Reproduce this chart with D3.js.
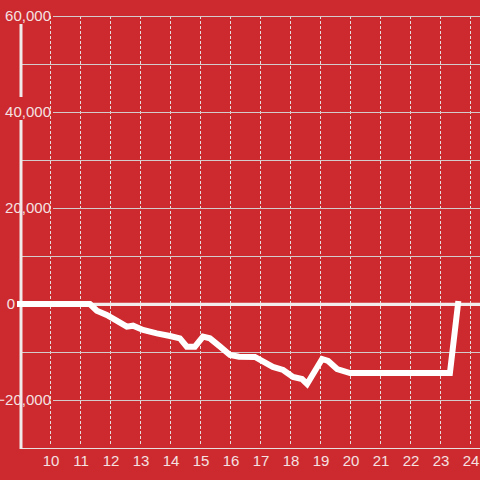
<!DOCTYPE html>
<html>
<head>
<meta charset="utf-8">
<script src="https://cdn.jsdelivr.net/npm/d3@7"></script>
<style>
  body { margin: 0; background: #cc2a2f; }
  svg { display: block; font-family: "Liberation Sans", Arial, sans-serif; }
</style>
</head>
<body>
<svg width="480" height="480"></svg>
<script>
// hours of the day (x) and running value (y)
var hours = [9.0, 11.33, 11.56, 11.89, 12.22, 12.56, 12.77, 13.1, 13.56, 14.0, 14.33, 14.56, 14.83,
  15.1, 15.33, 15.67, 16.0, 16.3, 16.83, 17.43, 17.77, 18.1, 18.4, 18.57, 19.07, 19.27, 19.57,
  20.0, 23.33, 23.6];
var values = [0, 0, -1400, -2290, -3480, -4730, -4520, -5420, -6110, -6670, -7150, -8890, -8890,
  -6800, -7150, -8890, -10620, -10970, -11040, -13100, -13750, -15200, -15625, -16670, -11460, -11875, -13540,
  -14375, -14375, 0];

var xTicks = [10, 11, 12, 13, 14, 15, 16, 17, 18, 19, 20, 21, 22, 23, 24];
var yGrid = [-20000, -10000, 10000, 20000, 30000, 40000, 50000, 60000];
var yLabels = [-20000, 0, 20000, 40000, 60000];

var data = hours.map((h, i) => ({h: h, v: values[i]}));

//Width and height
var w = 480;
var h = 480;

var x = d3.scaleLinear().domain([9, 24.333]).range([20, 480]);
var y = d3.scaleLinear().domain([-30000, 60000]).range([448, 16]);

var svg = d3.select("svg");

// vertical dashed grid
svg.append("g")
    .selectAll("line")
    .data(xTicks)
    .enter()
    .append("line")
    .attr("x1", d => x(d) + 0.5)
    .attr("x2", d => x(d) + 0.5)
    .attr("y1", y(60000))
    .attr("y2", y(-30000) - 2)
    .attr("stroke", "#e6dede")
    .attr("stroke-width", 1)
    .attr("stroke-dasharray", "3,2");

// horizontal grid (labelled ones start after the label)
svg.append("g")
    .selectAll("line")
    .data(yGrid)
    .enter()
    .append("line")
    .attr("x1", d => yLabels.includes(d) ? 53 : 21)
    .attr("x2", w)
    .attr("y1", d => y(d) + 0.5)
    .attr("y2", d => y(d) + 0.5)
    .attr("stroke", "#d4cccc")
    .attr("stroke-width", 1);

// bottom line
svg.append("line")
    .attr("x1", 20).attr("x2", w)
    .attr("y1", y(-30000) + 0.5).attr("y2", y(-30000) + 0.5)
    .attr("stroke", "#e8dede");

// y axis line (broken under the 40,000 label like the original)
svg.append("g")
    .selectAll("line")
    .data([[y(60000) + 8, y(40000) - 15], [y(40000) + 8, y(-30000) + 1]])
    .enter()
    .append("line")
    .attr("x1", 21).attr("x2", 21)
    .attr("y1", d => d[0]).attr("y2", d => d[1])
    .attr("stroke", "#f0eaea")
    .attr("stroke-width", 3);

// zero line
svg.append("line")
    .attr("x1", 17).attr("x2", w)
    .attr("y1", y(0) + 0.3).attr("y2", y(0) + 0.3)
    .attr("stroke", "#f2ecec")
    .attr("stroke-width", 3.3);

// y labels
var fmt = d3.format(",");
svg.append("g")
    .selectAll("text")
    .data(yLabels)
    .enter()
    .append("text")
    .attr("x", d => d === 0 ? 15 : 51)
    .attr("y", d => y(d))
    .attr("dy", "0.36em")
    .attr("text-anchor", "end")
    .attr("font-size", 15)
    .attr("fill", "#f5e1e1")
    .text(d => fmt(d));

// x labels
svg.append("g")
    .selectAll("text")
    .data(xTicks)
    .enter()
    .append("text")
    .attr("x", d => x(d) + 1)
    .attr("y", 466)
    .attr("text-anchor", "middle")
    .attr("font-size", 15)
    .attr("fill", "#f5e1e1")
    .text(d => d);

// the line
var line = d3.line()
    .x(d => x(d.h))
    .y(d => y(d.v));

svg.append("path")
    .datum(data)
    .attr("d", line)
    .attr("fill", "none")
    .attr("stroke", "#ffffff")
    .attr("stroke-width", 6)
    .attr("stroke-linecap", "square");
</script>
</body>
</html>
